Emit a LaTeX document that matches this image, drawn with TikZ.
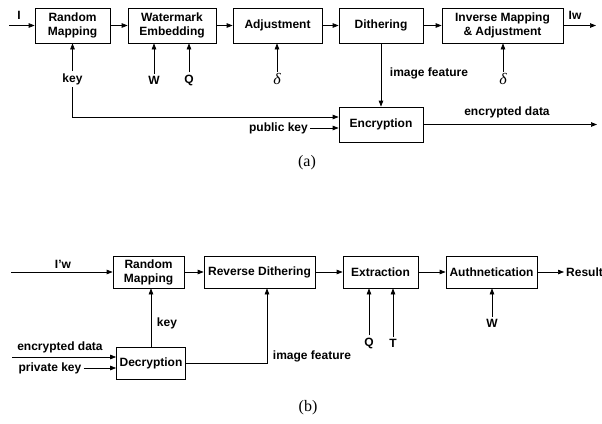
\documentclass[tikz,border=0pt]{standalone}
\usepackage{fontspec}
\setmainfont{Liberation Sans}
\newfontfamily\capfont{Liberation Serif}
\usetikzlibrary{arrows.meta,calc}
\begin{document}
\begin{tikzpicture}[x=1pt,y=1pt,
    block/.style={draw,rectangle,line width=0.7pt,align=center,inner sep=1pt,
        font=\fontsize{12}{14}\selectfont\bfseries},
    lbl/.style={inner sep=2pt,font=\fontsize{12}{14}\selectfont\bfseries},
    dlt/.style={inner sep=1pt,font=\capfont\itshape\fontsize{16}{18}\selectfont},
    figcap/.style={font=\capfont\fontsize{16}{18}\selectfont},
    arr/.style={line width=0.7pt,-{Triangle[length=6pt,width=4.5pt]}}]
    \pgfmathsetmacro{\bh}{35}
    \pgfmathsetmacro{\bhb}{32}
    \useasboundingbox (0,0) rectangle (602,-423);

    % (a) blocks
    \node[block,minimum width=75pt,minimum height=\bh pt] (RM1) at (72.5,-25.5) {Random\\Mapping};
    \node[block,minimum width=88pt,minimum height=\bh pt] (WE) at (172,-25.5) {Watermark\\Embedding};
    \node[block,minimum width=89pt,minimum height=\bh pt] (ADJ) at (277.5,-25.5) {Adjustment};
    \node[block,minimum width=84pt,minimum height=\bh pt] (DITH) at (381,-25.5) {Dithering};
    \node[block,minimum width=121pt,minimum height=\bh pt] (INV) at (502.5,-25.5) {Inverse Mapping\\\& Adjustment};
    \node[block,minimum width=84pt,minimum height=\bh pt] (ENC) at (381,-124.5) {Encryption};

    % (a) main line
    \coordinate (IN1) at (9,-25.5);
    \coordinate (OUT1) at (596,-25.5);
    \draw[arr] (IN1) -- (RM1);
    \draw[arr] (RM1) -- (WE);
    \draw[arr] (WE) -- (ADJ);
    \draw[arr] (ADJ) -- (DITH);
    \draw[arr] (DITH) -- (INV);
    \draw[arr] (INV) -- (OUT1);
    \node[lbl] (LI) at (19,-15) {I};
    \node[lbl] (LIW) at (575,-15) {Iw};

    % (a) side inputs
    \node[lbl] (KEY1) at (72.5,-79) {key};
    \node[lbl] (W1) at (154,-80) {W};
    \node[lbl] (Q1) at (189,-80) {Q};
    \node[dlt] (D1) at (277,-79) {δ};
    \node[dlt] (D2) at (503,-79) {δ};
    \draw[arr] (KEY1.north) -- (KEY1.north |- RM1.south);
    \draw[arr] (W1.north) -- (W1.north |- WE.south);
    \draw[arr] (Q1.north) -- (Q1.north |- WE.south);
    \draw[arr] (D1.north) -- (D1.north |- ADJ.south);
    \draw[arr] (D2.north) -- (D2.north |- INV.south);

    % (a) encryption
    \node[lbl] (IF1) at (429,-73) {image feature};
    \node[lbl] (PK1) at (278.5,-128) {public key};
    \coordinate (ED1) at (597,-124.5);
    \draw[arr] (DITH) -- (ENC);
    \draw[arr] (KEY1.south) |- ($(ENC.west)+(0,7.5)$);
    \draw[arr] (PK1.east) -- (PK1.east -| ENC.west);
    \draw[arr] (ENC) -- (ED1);
    \node[lbl] (LED1) at (507,-112) {encrypted data};
    \node[figcap] (CAPA) at (307,-163) {(a)};

    % (b) blocks
    \node[block,minimum width=71pt,minimum height=\bhb pt] (RM2) at (148.5,-272) {Random\\Mapping};
    \node[block,minimum width=111pt,minimum height=\bhb pt] (RD) at (259.5,-272) {Reverse Dithering};
    \node[block,minimum width=75pt,minimum height=\bhb pt] (EXT) at (380.5,-272) {Extraction};
    \node[block,minimum width=91pt,minimum height=\bhb pt] (AUTH) at (491.5,-272) {Authnetication};
    \node[block,minimum width=69pt,minimum height=\bhb pt] (DEC) at (151,-363) {Decryption};

    % (b) main line
    \coordinate (IN2) at (11,-272);
    \node[lbl,anchor=west] (RES) at (564,-272) {Result};
    \draw[arr] (IN2) -- (RM2);
    \draw[arr] (RM2) -- (RD);
    \draw[arr] (RD) -- (EXT);
    \draw[arr] (EXT) -- (AUTH);
    \draw[arr] (AUTH) -- (RES);
    \node[lbl] (LIW2) at (63,-264) {I'w};

    % (b) decryption
    \coordinate (ED2) at (12,-357);
    \node[lbl] (LED2) at (60,-347) {encrypted data};
    \node[lbl] (PK2) at (50,-368) {private key};
    \draw[arr] (ED2) -- (ED2 -| DEC.west);
    \draw[arr] (PK2.east) -- (PK2.east -| DEC.west);
    \draw[arr] (DEC) -- (DEC |- RM2.south);
    \node[lbl] (KEY2) at (167,-323) {key};
    \draw[arr] (DEC.east) -| ($(RD.south)+(7.5,0)$);
    \node[lbl] (IF2) at (312,-356) {image feature};

    % (b) side inputs
    \node[lbl] (Q2) at (369,-343) {Q};
    \node[lbl] (T2) at (393,-343) {T};
    \node[lbl] (W2) at (492,-323) {W};
    \draw[arr] (Q2.north) -- (Q2.north |- EXT.south);
    \draw[arr] (T2.north) -- (T2.north |- EXT.south);
    \draw[arr] (W2.north) -- (W2.north |- AUTH.south);
    \node[figcap] (CAPB) at (308,-408) {(b)};
\end{tikzpicture}
\end{document}
